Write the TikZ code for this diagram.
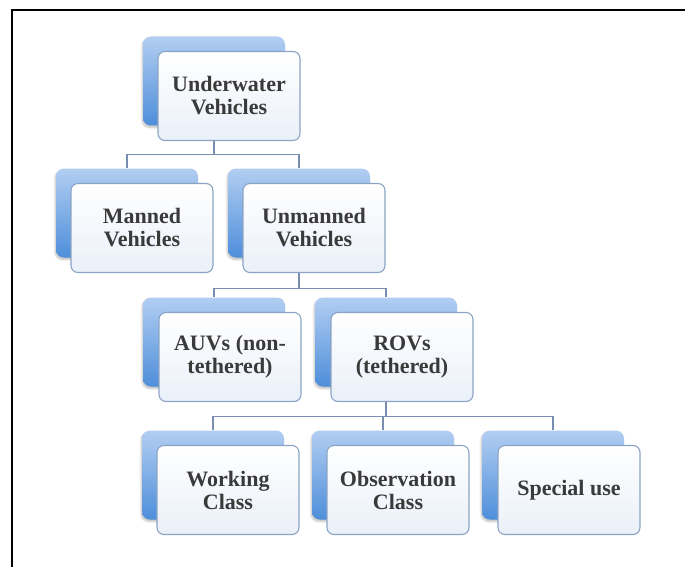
\documentclass[tikz,border=0pt]{standalone}
\usepackage{fontspec}
\setmainfont{Liberation Serif}
\usetikzlibrary{backgrounds,shadows.blur}

\definecolor{backtop}{RGB}{178,206,242}
\definecolor{backbot}{RGB}{78,142,218}
\definecolor{frontfill}{RGB}{234,240,249}
\definecolor{frontline}{RGB}{140,164,196}
\definecolor{linkcol}{RGB}{120,142,176}
\definecolor{txt}{RGB}{58,58,58}

\tikzset{
  back/.style={rounded corners=8pt, minimum width=142pt, minimum height=89pt,
    top color=backtop, bottom color=backbot,
    blur shadow={shadow xshift=-1pt, shadow yshift=-2pt, shadow blur steps=6, shadow opacity=25}},
  front/.style={draw=frontline, line width=1.1pt, rounded corners=7pt,
    top color=white, bottom color=frontfill, minimum width=142pt, minimum height=89pt,
    align=center, text=txt, font=\bfseries\fontsize{22}{23}\selectfont},
  link/.style={draw=linkcol, line width=1.1pt}
}

\begin{document}
\begin{tikzpicture}[x=1pt, y=-1pt]
\useasboundingbox (0,0) rectangle (685,567);
\draw[line width=1.5pt] (685,10) -- (12,10) -- (12,567);
% top level
\node[back] (uvB) at (214,81) {};
\node[front] (uv) at ([shift={(15,15)}]uvB.center) {Underwater\\Vehicles};
% second row
\node[back] (manB) at (127,213) {};
\node[front] (man) at ([shift={(15,15)}]manB.center) {Manned\\Vehicles};
\node[back] (unmB) at (299,213) {};
\node[front] (unm) at ([shift={(15,15)}]unmB.center) {Unmanned\\Vehicles};
% third row
\node[back] (auvB) at (214,342) {};
\node[front] (auv) at ([shift={(16,15)}]auvB.center) {AUVs (non-\\tethered)};
\node[back] (rovB) at (386,342) {};
\node[front] (rov) at ([shift={(16,15)}]rovB.center) {ROVs\\(tethered)};
% fourth row
\node[back] (wrkB) at (213,475) {};
\node[front] (wrk) at ([shift={(15,15)}]wrkB.center) {Working\\Class};
\node[back] (obsB) at (383,475) {};
\node[front] (obs) at ([shift={(15,15)}]obsB.center) {Observation\\Class};
\node[back] (spcB) at (553,475) {};
\node[front] (spc) at ([shift={(16,15)}]spcB.center) {Special use};
% hierarchy lines
\begin{scope}[on background layer]
\draw[link] (uvB.south) -- ++(0,29) -| (manB.north);
\draw[link] (uvB.south) -- ++(0,29) -| (unmB.north);
\draw[link] (unmB.south) -- ++(0,30.5) -| (auvB.north);
\draw[link] (unmB.south) -- ++(0,30.5) -| (rovB.north);
\draw[link] (rovB.south) -- ++(0,29.5) -| (wrkB.north);
\draw[link] (rovB.south) -- ++(0,29.5) -| (obsB.north);
\draw[link] (rovB.south) -- ++(0,29.5) -| (spcB.north);
\end{scope}
\end{tikzpicture}
\end{document}
